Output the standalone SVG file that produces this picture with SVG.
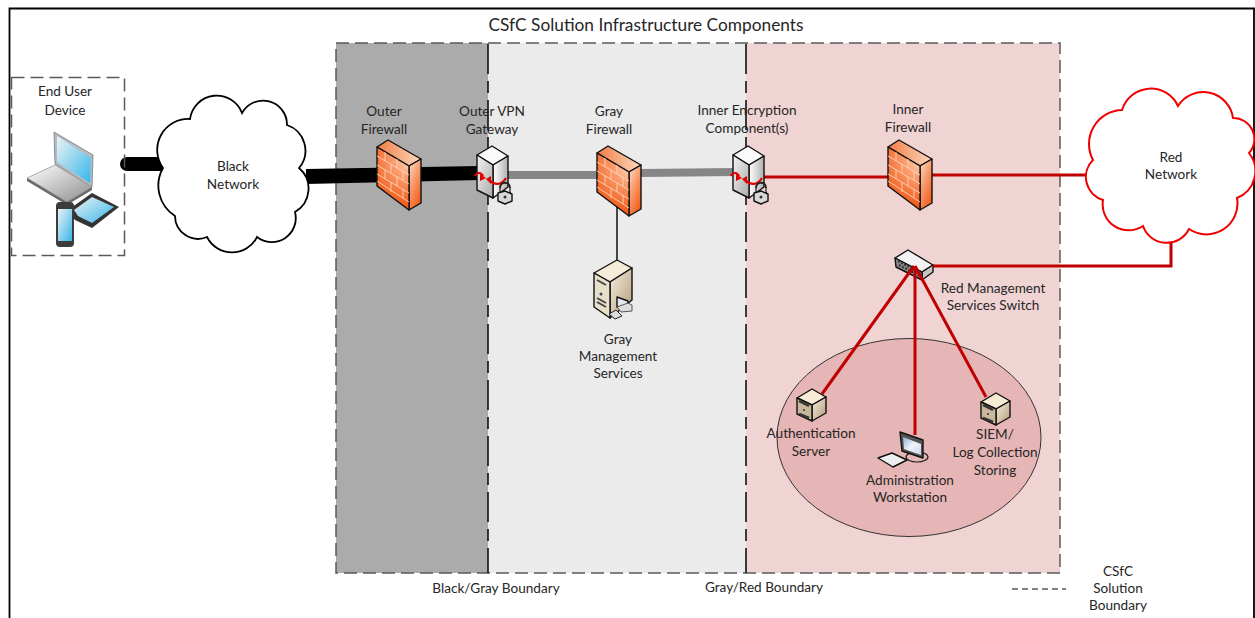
<svg xmlns="http://www.w3.org/2000/svg" width="1255" height="618" viewBox="0 0 1255 618">
<style>
text{font-family:"Lato","Carlito","Liberation Sans",sans-serif;font-size:13.600px;fill:#262626;text-anchor:middle}
.title{font-size:17.300px}
.dash{fill:none;stroke:#5a5a5a;stroke-width:1.500;stroke-dasharray:13 6}
.bnd{fill:none;stroke:#111;stroke-width:1.600;stroke-dasharray:30 7 12 7}
.red{fill:none;stroke:#c00000;stroke-width:3}
.ol{stroke:#111;stroke-width:1.400;stroke-linejoin:round}
.brick{fill:none;stroke:#ffd5bc;stroke-width:.9}
.arr{fill:none;stroke:#e00000;stroke-width:2.200}
</style>
<defs>
<radialGradient id="fwf" gradientUnits="userSpaceOnUse" cx="412" cy="160" r="44"><stop offset="0" stop-color="#fde3cf"/><stop offset=".4" stop-color="#fb9f70"/><stop offset="1" stop-color="#f1601f"/></radialGradient>
<linearGradient id="fws" x1="0" y1="0" x2=".6" y2="1"><stop offset="0" stop-color="#fce4cf"/><stop offset=".5" stop-color="#f99b6c"/><stop offset="1" stop-color="#f1601f"/></linearGradient>
<linearGradient id="fwt" x1="0" y1="0" x2="1" y2="0"><stop offset="0" stop-color="#f27c45"/><stop offset="1" stop-color="#fbd9bf"/></linearGradient>
<linearGradient id="srv" x1="0" y1="0" x2="1" y2="0"><stop offset="0" stop-color="#fff"/><stop offset="1" stop-color="#b0b0b0"/></linearGradient>
<linearGradient id="srl" x1="0" y1="0" x2="1" y2="1"><stop offset="0" stop-color="#f4f4f4"/><stop offset="1" stop-color="#a9a9a9"/></linearGradient>
<linearGradient id="tan" x1="0" y1="0" x2="1" y2="1"><stop offset="0" stop-color="#f8efdc"/><stop offset="1" stop-color="#b09a7c"/></linearGradient>
<linearGradient id="scr" x1="0" y1="0" x2="1" y2="1"><stop offset="0" stop-color="#eef2f4"/><stop offset="1" stop-color="#35b6ea"/></linearGradient>
<linearGradient id="scw" x1="0" y1="0" x2="1" y2="1"><stop offset="0" stop-color="#8faed0"/><stop offset=".5" stop-color="#f1f5fa"/><stop offset="1" stop-color="#c3d5e8"/></linearGradient>
<linearGradient id="sil" x1="0" y1="0" x2="1" y2="1"><stop offset="0" stop-color="#fff"/><stop offset="1" stop-color="#8d8d8d"/></linearGradient>
<g id="fw">
<path class="ol" d="M377 147 388 140 421 159 409 166Z" fill="url(#fwt)"/>
<path class="ol" d="M409 166 421 159V203L409 210Z" fill="url(#fws)"/>
<path class="ol" d="M377 147 409 166V210L377 186Z" fill="url(#fwf)"/>
<path class="brick" d="M377 156 409 175M377 165 409 184M377 174 409 193M377 181 409 202M385 152V161M397 159V168M385 170V179M397 177V186M391 164V173M403 171V180M391 182V192M403 189V198"/>
</g>
<g id="sv">
<path class="ol" d="M477 155 492 146 508 156 493 165Z" fill="#fafafa"/>
<path class="ol" d="M493 165 508 156V187L493 198Z" fill="url(#srv)"/>
<path class="ol" d="M477 155 493 165V198L477 190Z" fill="url(#srl)"/>
<path class="arr" d="M475 176C477 172 481 172 483 176M506 178C501 186 494 185 489 180"/>
<path d="M480 174 486 178 480 181ZM491 176 486 179 491 184Z" fill="#e00000"/>
<path d="M500 192V188C500 181 510 181 510 188V193" fill="none" stroke="#222" stroke-width="2"/>
<path d="M500 188V192M510 188V192" fill="none" stroke="#ddd" stroke-width=".8"/>
<path class="ol" d="M498 193 505 191 512 194V201L505 204 498 201Z" fill="#d8d8d8"/>
<circle cx="505" cy="197" r="1.500" fill="#333"/>
</g>
<g id="sm">
<path class="ol" d="M0 9 15 0 29 8 15 16Z" fill="#f6ecd6"/>
<path class="ol" d="M15 16 29 8V24L15 32Z" fill="url(#tan)"/>
<path class="ol" d="M0 9 15 16V32L0 25Z" fill="#c9b79b"/>
<path d="M2 12 12 17M2 25 12 29" stroke="#333" stroke-width="2.500" fill="none"/>
<circle cx="7" cy="21" r="1" fill="#333"/>
</g>
</defs>

<g id="frame"><path d="M9.500 618V8.500H1254V618" fill="none" stroke="#000" stroke-width="1.800"/></g>

<g id="zones">
<rect x="336" y="43" width="152" height="530" fill="#ababab"/>
<rect x="488" y="43" width="258" height="530" fill="#ebebeb"/>
<rect x="746" y="43" width="314" height="530" fill="#f0d4d4"/>
<rect class="dash" x="336" y="43" width="724" height="530"/>
<path class="bnd" d="M488 44V573M746 44V573"/>
<ellipse cx="909" cy="437.500" rx="132" ry="99" fill="#e6b5b5" stroke="#333" stroke-width="1"/>
</g>

<g id="red-management-switch">
<path class="ol" d="M895 258 908 250 933 265 922 272Z" fill="#f2f2f2"/>
<path class="ol" d="M922 272 933 265V272L922 280Z" fill="#c4c4c4"/>
<path class="ol" d="M895 258 922 272V280L896 267Z" fill="#8a8a8a"/>
<path d="M898 261 920 273M899 265 920 276" stroke="#333" stroke-width="2" stroke-dasharray="2 1.500" fill="none"/>
<text x="993" y="293">Red Management</text><text x="993" y="310">Services Switch</text>
</g>

<g id="connectors">
<path d="M127 164H165" stroke="#000" stroke-width="14" stroke-linecap="round" fill="none"/>
<path d="M306 169 480 166V180L306 184Z" fill="#000"/>
<path d="M505 175H600M640 173 738 172" stroke="#868686" stroke-width="8" fill="none"/>
<path class="red" d="M760 177H890M930 175H1087M933 266H1171V242"/>
<path d="M617 205V262" stroke="#111" stroke-width="1.500" fill="none"/>
<path class="red" d="M914 266 822 394M915 266V435M915 266 986 397"/>
</g>

<g id="black-network">
<path d="M163 168A31 31 0 0 1 190 119A27 27 0 0 1 242 113A24 24 0 0 1 287 125A27 27 0 0 1 299 168A27 27 0 0 1 295 212A24 24 0 0 1 257 237A28 28 0 0 1 207 237A23 23 0 0 1 175 216A36 36 0 0 1 163 168Z" fill="#fff" stroke="#000" stroke-width="1.800"/>
<text x="233" y="171">Black</text><text x="233" y="189">Network</text>
</g>
<g id="red-network">
<path d="M1093 160A34 34 0 0 1 1122 110A30 30 0 0 1 1178 106A30 30 0 0 1 1233 118A21 21 0 0 1 1249 153A29 29 0 0 1 1237 198A31 31 0 0 1 1189 229A25 25 0 0 1 1143 226A26 26 0 0 1 1103 200A24 24 0 0 1 1093 160Z" fill="#fff" stroke="#f00000" stroke-width="2"/>
<text x="1171" y="162">Red</text><text x="1171" y="179">Network</text>
</g>

<g id="end-user-device">
<rect class="dash" x="11.500" y="77.500" width="113" height="178"/>
<text x="65" y="96">End User</text><text x="65" y="115">Device</text>
<path d="M54 132 93 155 92 187 55 164Z" fill="#b4bcc2" stroke="#777" stroke-width=".8"/>
<path d="M57 136 91 158 90 183 57 162Z" fill="url(#scr)"/>
<path d="M27 178 55 165 92 187 67 202Z" fill="url(#sil)" stroke="#999" stroke-width=".8"/>
<path d="M27 178V181L67 205 92 190V187L67 202Z" fill="#6b6b6b"/>
<path d="M68 210 92 193 119 207 92 228 75 220Z" fill="#333"/>
<path d="M74 210 92 197 114 207 92 223 78 216Z" fill="url(#scr)"/>
<rect x="56" y="202" width="18" height="45" rx="4" fill="#3c3c3c"/>
<rect x="58" y="209" width="14" height="32" fill="url(#scr)"/>
</g>

<g id="outer-firewall"><use href="#fw"/><text x="384" y="116">Outer</text><text x="384" y="134">Firewall</text></g>
<g id="outer-vpn-gateway"><use href="#sv"/><text x="492" y="116">Outer VPN</text><text x="492" y="134">Gateway</text></g>
<g id="gray-firewall"><use href="#fw" x="220" y="6"/><text x="609" y="116">Gray</text><text x="609" y="134">Firewall</text></g>
<g id="inner-encryption"><use href="#sv" x="256"/><text x="747" y="115">Inner Encryption</text><text x="747" y="133">Component(s)</text></g>
<g id="inner-firewall"><use href="#fw" x="511"/><text x="908" y="114">Inner</text><text x="908" y="132">Firewall</text></g>

<g id="gray-management">
<path class="ol" d="M594 273 617 260 632 268 610 282Z" fill="#f4ecd8"/>
<path class="ol" d="M610 282 632 268V300L610 318Z" fill="url(#tan)"/>
<path class="ol" d="M594 273 610 282V318L594 307Z" fill="#e8dfca"/>
<path d="M597 280 606 285M597 298 606 303M597 302 606 307" stroke="#444" stroke-width="2" fill="none"/>
<circle cx="601" cy="294" r="1.500" fill="#345"/>
<path class="ol" d="M617 297 628 301V310L617 307Z" fill="#dfe8ee" stroke-width="1"/>
<path d="M628 303 632 305V311L621 312 617 307Z" fill="#ddd" stroke="#333" stroke-width=".8"/>
<path d="M609 314 616 310 622 316 615 319Z" fill="#ddd" stroke="#222"/>
<text x="618" y="344">Gray</text><text x="618" y="361">Management</text><text x="618" y="378">Services</text>
</g>

<g id="authentication-server"><use href="#sm" x="797" y="389"/><text x="811" y="438">Authentication</text><text x="811" y="456">Server</text></g>
<g id="siem"><use href="#sm" x="981" y="393"/><text x="995" y="439">SIEM/</text><text x="995" y="457">Log Collection</text><text x="995" y="475">Storing</text></g>
<g id="administration-workstation">
<ellipse cx="917" cy="457" rx="11" ry="5" fill="#e6b5b5" stroke="#222" stroke-width="1.200"/>
<path class="ol" d="M900 432 923 440V458L902 451Z" fill="#555"/>
<path d="M903 437 921 444V455L904 449Z" fill="url(#scw)"/>
<path class="ol" d="M878 458 892 453 907 460 893 467Z" fill="#eee"/>
<text x="910" y="485">Administration</text><text x="910" y="502">Workstation</text>
</g>

<g id="legend">
<text x="496" y="593">Black/Gray Boundary</text>
<text x="764" y="592">Gray/Red Boundary</text>
<path d="M1012 589H1066" fill="none" stroke="#5a5a5a" stroke-width="1.300" stroke-dasharray="6 4"/>
<text x="1118" y="576">CSfC</text><text x="1118" y="593">Solution</text><text x="1118" y="610">Boundary</text>
<text class="title" x="646" y="31">CSfC Solution Infrastructure Components</text>
</g>
</svg>
